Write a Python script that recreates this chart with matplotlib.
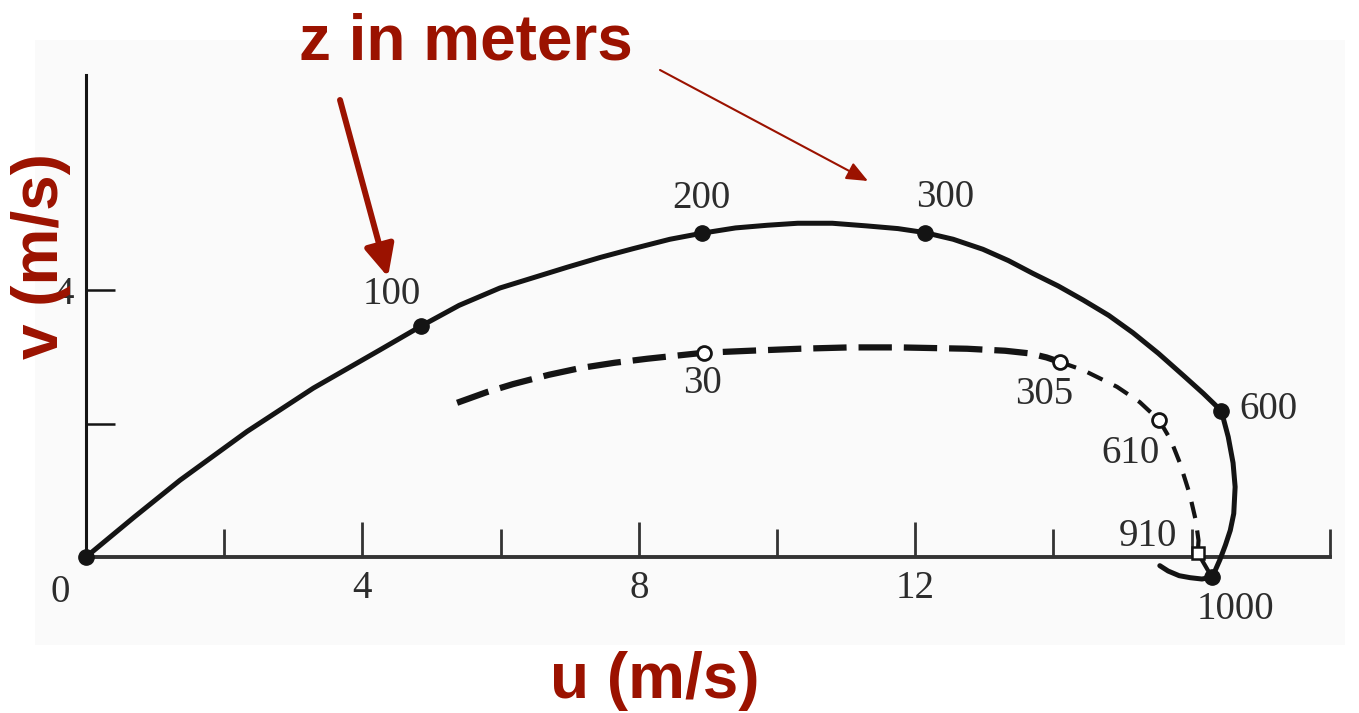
import matplotlib
matplotlib.use("Agg")
import matplotlib.pyplot as plt
from matplotlib.patches import Rectangle

plt.rcParams['lines.scale_dashes'] = False

# hodograph, u and v in m/s
ekman_u = [0.0, 0.7, 1.36, 2.33, 3.29, 4.25, 4.85, 5.4, 5.99, 6.96, 7.45, 7.92,
           8.45, 8.91, 9.4, 9.86, 10.3, 10.8, 11.3, 11.75, 12.14, 12.55, 12.98,
           13.35, 13.70, 14.07, 14.43, 14.8, 15.15, 15.52, 15.88, 16.17, 16.43,
           16.53, 16.60, 16.63, 16.61, 16.56, 16.49, 16.41, 16.30, 16.15, 15.98,
           15.82, 15.66, 15.54]
ekman_v = [0.0, 0.60, 1.15, 1.88, 2.53, 3.10, 3.46, 3.77, 4.03, 4.34, 4.49, 4.62,
           4.76, 4.85, 4.93, 4.97, 5.00, 5.00, 4.96, 4.92, 4.86, 4.76, 4.61,
           4.44, 4.25, 4.06, 3.85, 3.62, 3.36, 3.05, 2.72, 2.45, 2.19,
           1.80, 1.41, 1.05, 0.65, 0.40, 0.18, -0.04, -0.30, -0.33, -0.31,
           -0.28, -0.21, -0.13]
ekman_z = [100, 200, 300, 600, 1000]
ekman_zu = [4.85, 8.91, 12.14, 16.43, 16.30]
ekman_zv = [3.46, 4.85, 4.86, 2.19, -0.30]

# observed wind, long dashes up to 305 m, short dashes above
obs_low_u = [5.37, 5.8, 6.18, 6.7, 7.15, 7.65, 8.12, 8.94, 9.61, 10.33, 11.05,
             11.78, 12.75, 13.3, 13.66, 13.9, 14.10]
obs_low_v = [2.31, 2.47, 2.59, 2.73, 2.83, 2.91, 2.97, 3.06, 3.09, 3.12, 3.14,
             3.14, 3.12, 3.09, 3.05, 2.99, 2.92]
obs_high_u = [14.10, 14.43, 14.92, 15.25, 15.53, 15.70, 15.83, 15.97, 16.06, 16.10,
              16.09, 16.27]
obs_high_v = [2.92, 2.80, 2.55, 2.32, 2.05, 1.75, 1.41, 0.95, 0.55, 0.25,
              0.06, -0.26]
obs_z = [30, 305, 610, 910]
obs_zu = [8.94, 14.10, 15.53, 16.09]
obs_zv = [3.06, 2.92, 2.05, 0.06]

xmajor = [4, 8, 12]
xminor = [2, 6, 10, 14, 16, 18]
yticks = [2, 4]
ylabels = ['', '4']

RED = '#9b1200'
INK = '#141414'
NUM = '#2c2c2c'
W, H = 1359, 713


def fpx(x, y):
    return (x / W, 1 - y / H)


fig = plt.figure(figsize=(W / 100, H / 100), dpi=100)
fig.patches.append(Rectangle(fpx(35, 645), 1310 / W, 605 / H, transform=fig.transFigure,
                             facecolor='#fafafa', edgecolor='none', zorder=-5))
ax = fig.add_axes([0, 0, 1, 1])
ax.set_zorder(2)
ax.set_facecolor('none')
ax.set_xlim(-86 / 69.1, (W - 86) / 69.1)
ax.set_ylim(-(H - 557) / 66.75, 557 / 66.75)

for side in ['top', 'right']:
    ax.spines[side].set_visible(False)
ax.spines['left'].set_position(('data', 0))
ax.spines['bottom'].set_position(('data', 0))
ax.spines['left'].set_bounds(0, 7.22)
ax.spines['bottom'].set_bounds(0, 18.0)
ax.spines['left'].set_linewidth(2.2)
ax.spines['left'].set_color(INK)
ax.spines['bottom'].set_linewidth(2.8)
ax.spines['bottom'].set_color('#333333')

ax.set_xticks(xmajor, labels=[str(t) for t in xmajor])
ax.set_xticks(xminor, minor=True)
ax.set_yticks(yticks, labels=ylabels)
ax.tick_params(axis='x', which='major', direction='in', length=25, width=2,
               color='#333333', pad=9, labelsize=28, labelcolor=NUM,
               labelfontfamily='Liberation Serif')
ax.tick_params(axis='x', which='minor', direction='in', length=20, width=2,
               color='#333333')
ax.tick_params(axis='y', direction='in', length=21, width=1.8, color=INK, pad=9,
               labelsize=28, labelcolor=NUM, labelfontfamily='Liberation Serif')
ax.annotate('0', (0, 0), xytext=(-26, -35), textcoords='offset pixels', ha='center',
            va='center', fontsize=28, family='Liberation Serif', color=NUM)

# Ekman spiral (solid)
ax.plot(ekman_u, ekman_v, color=INK, lw=3.6, solid_joinstyle='round',
        solid_capstyle='round', zorder=3)
ax.plot([0] + ekman_zu, [0] + ekman_zv, 'o', color=INK, ms=11, zorder=4)

# observed (dashed)
low, = ax.plot(obs_low_u, obs_low_v, color=INK, lw=4.5, zorder=3)
low.set_dashes([24, 8.6])
high, = ax.plot(obs_high_u, obs_high_v, color=INK, lw=3, zorder=3)
high.set_dashes([12, 9])
ax.plot(obs_zu[:3], obs_zv[:3], 'o', mfc='white', mec=INK, mew=2, ms=10, zorder=4)
ax.plot(obs_zu[3:], obs_zv[3:], 's', mfc='white', mec=INK, mew=1.8, ms=9, zorder=4)

ekman_off = [(-29, 32), (0, 35), (20, 35), (47, 1), (23, -32)]
obs_off = [(-1, -31), (-16, -32), (-29, -33), (-50, 16)]
for z, u, v, off in zip(ekman_z + obs_z, ekman_zu + obs_zu, ekman_zv + obs_zv,
                        ekman_off + obs_off):
    ax.annotate(str(z), (u, v), xytext=off, textcoords='offset pixels', ha='center',
                va='center', fontsize=28, family='Liberation Serif', color=NUM,
                zorder=5)

# red slide annotations
fig.text(*fpx(466, 60), 'z in meters', ha='center', va='baseline', fontsize=46,
         fontweight='bold', family='Liberation Sans', color=RED)
fig.text(*fpx(655, 698), 'u (m/s)', ha='center', va='baseline', fontsize=46,
         fontweight='bold', family='Liberation Sans', color=RED)
fig.text(*fpx(58, 256), 'v (m/s)', ha='center', va='baseline', rotation=90,
         rotation_mode='anchor', fontsize=46, fontweight='bold',
         family='Liberation Sans', color=RED, zorder=10)

ax.annotate('', xy=fpx(388, 277), xytext=fpx(340, 100), xycoords='figure fraction',
            textcoords='figure fraction',
            arrowprops=dict(arrowstyle='-|>,head_length=0.95,head_width=0.45',
                            mutation_scale=20, lw=4.3, color=RED, shrinkA=0, shrinkB=0))
ax.annotate('', xy=fpx(868, 181), xytext=fpx(660, 70), xycoords='figure fraction',
            textcoords='figure fraction',
            arrowprops=dict(arrowstyle='-|>,head_length=1.3,head_width=0.55',
                            mutation_scale=10, lw=1.5, color=RED, shrinkA=0, shrinkB=0))

fig.savefig('out.png', dpi=100)
